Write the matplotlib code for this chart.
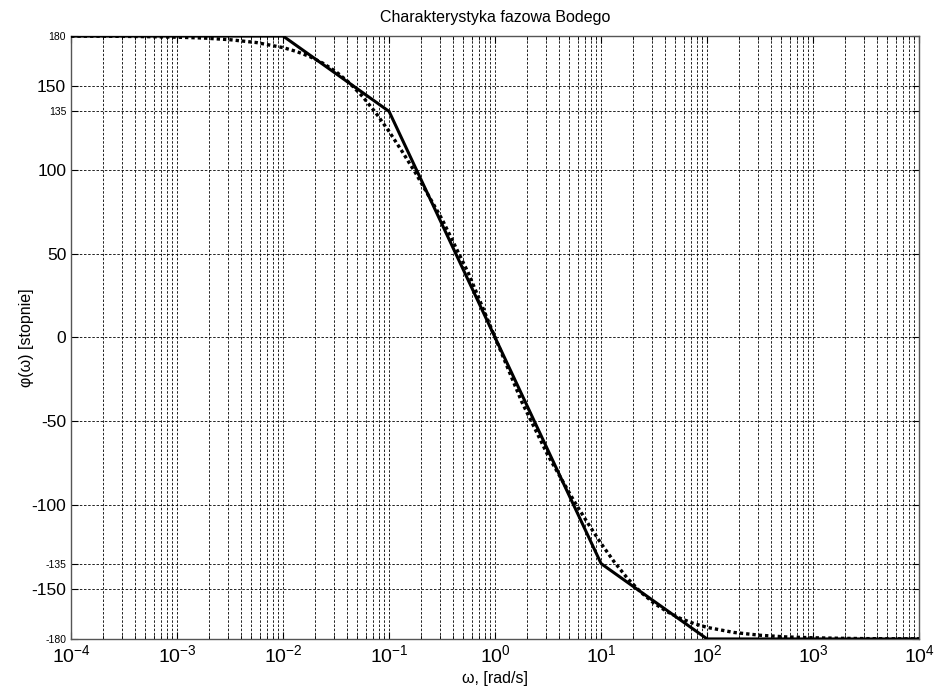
import numpy as np
import matplotlib
matplotlib.use('Agg')
import matplotlib.pyplot as plt
from matplotlib.ticker import LogLocator, FixedLocator, NullFormatter

plt.rcParams['font.family'] = ['Liberation Sans', 'DejaVu Sans']
plt.rcParams['mathtext.default'] = 'regular'

# asymptotic (solid) characteristic - break points
w_asym = [1e-4, 1e-2, 1e-1, 1e1, 1e2, 1e4]
phi_asym = [180, 180, 135, -135, -180, -180]

# exact (dotted) characteristic
logw_exact = [-4.0, -3.75, -3.5, -3.25, -3.0, -2.75, -2.5, -2.25, -2.0, -1.875,
              -1.75, -1.625, -1.5, -1.375, -1.25, -1.125, -1.0, -0.875, -0.75,
              -0.5, -0.25, 0.0, 0.25, 0.5, 0.75, 0.875, 1.0, 1.125, 1.25, 1.375,
              1.5, 1.625, 1.75, 1.875, 2.0, 2.25, 2.5, 2.75, 3.0, 3.25, 3.5, 3.75, 4.0]
phi_exact = [179.9, 179.9, 179.8, 179.6, 179.3, 178.8, 177.8, 176.1, 173.1, 170.8,
             167.8, 163.8, 158.7, 152.1, 143.9, 134.1, 123.0, 110.9, 98.2,
             70.6, 38.2, 0.0, -38.2, -70.6, -98.2, -110.9, -123.0, -134.1, -143.9, -152.1,
             -158.7, -163.8, -167.8, -170.8, -173.1, -176.1, -177.8, -178.8, -179.3, -179.6,
             -179.8, -179.9, -179.9]

yticks = [-180, -150, -135, -100, -50, 0, 50, 100, 135, 150, 180]
small_ticks = [-180, -135, 135, 180]

fig = plt.figure(figsize=(9.35, 6.93), dpi=100)
ax = fig.add_axes([0.076, 0.078, 0.907, 0.870])

w_exact = [10 ** v for v in logw_exact]
ax.semilogx(w_asym, phi_asym, color='black', lw=2.2, solid_joinstyle='miter', zorder=3)
ax.semilogx(w_exact, phi_exact, color='black', lw=2.4, linestyle=(0, (1.0, 0.9)), zorder=3)

ax.set_xlim(1e-4, 1e4)
ax.set_ylim(-180, 180)
ax.xaxis.set_major_locator(LogLocator(base=10, numticks=20))
ax.xaxis.set_minor_locator(LogLocator(base=10, subs=np.arange(2, 10), numticks=100))
ax.xaxis.set_minor_formatter(NullFormatter())
ax.yaxis.set_major_locator(FixedLocator(yticks))
ax.set_yticklabels([str(t) for t in yticks])

ax.grid(True, which='major', linestyle=(0, (3, 2)), color='black', lw=0.6)
ax.grid(True, which='minor', axis='x', linestyle=(0, (3, 2)), color='black', lw=0.6)

ax.tick_params(which='both', direction='in', top=True, right=True)
ax.tick_params(axis='x', which='major', labelsize=14, pad=4)
ax.tick_params(which='major', length=5)
ax.tick_params(which='minor', length=3)
for lbl, t in zip(ax.get_yticklabels(), yticks):
    lbl.set_fontsize(7.5 if t in small_ticks else 12.5)
for s in ax.spines.values():
    s.set_color('#555555')
    s.set_linewidth(1.0)

ax.set_title('Charakterystyka fazowa Bodego', fontsize=11.5, pad=10)
ax.set_xlabel('\u03c9, [rad/s]', fontsize=11.5, labelpad=3)
ax.set_ylabel('\u03c6(\u03c9) [stopnie]', fontsize=11.5, labelpad=-2)

fig.savefig('out.png', dpi=100)
